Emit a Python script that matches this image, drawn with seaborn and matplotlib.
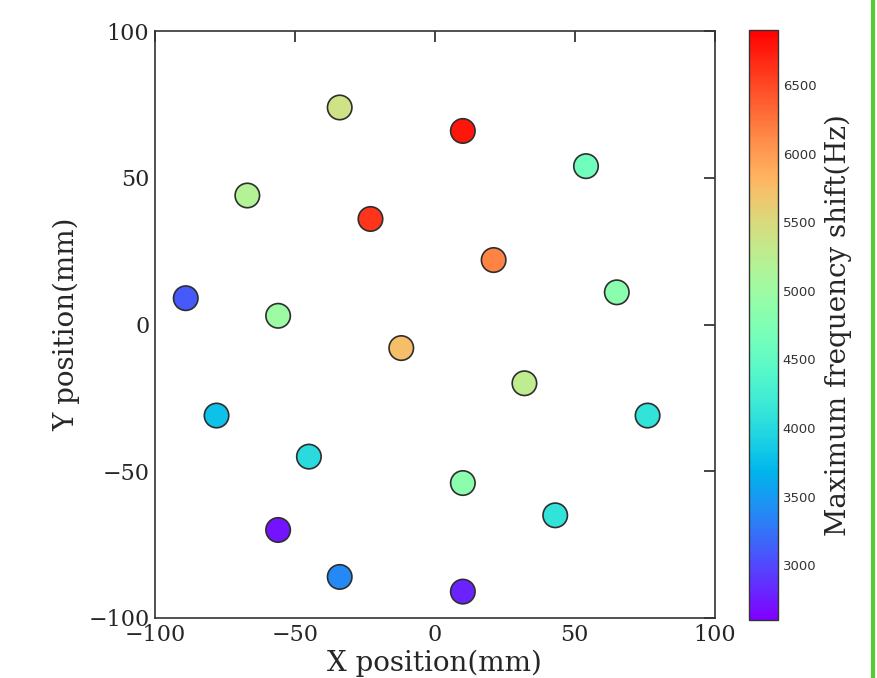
import numpy as np
import pandas as pd
import matplotlib
matplotlib.use("Agg")
import matplotlib.pyplot as plt
import matplotlib.lines as mlines
import seaborn as sns

# sensor positions (mm) and max frequency shift (Hz)
x_pos = [-34, 10, 54, -67, -23, 21, -89, 65, -56, -12, 32, -78, 76, -45, 10, 43, -56, -34, 10]
y_pos = [74, 66, 54, 44, 36, 22, 9, 11, 3, -8, -20, -31, -31, -45, -54, -65, -70, -86, -91]
freq_shift = [5400, 6770, 4620, 5180, 6600, 6150, 3100, 4850, 5000, 5750, 5280,
              3780, 4100, 4020, 4850, 4100, 2710, 3380, 2800]

vmin, vmax = 2600, 6900
cbar_ticks = [3000, 3500, 4000, 4500, 5000, 5500, 6000, 6500]

data = pd.DataFrame({"x": x_pos, "y": y_pos, "shift": freq_shift})

sns.set_style("white", {
    "xtick.direction": "in",
    "ytick.direction": "in",
    "axes.edgecolor": "#333333",
})
plt.rcParams["font.family"] = ["DejaVu Serif"]
plt.rcParams["axes.unicode_minus"] = True

fig = plt.figure(figsize=(8.77, 6.78), dpi=100)
ax = fig.add_axes([0.1767, 0.0885, 0.6383, 0.8655])
cax = fig.add_axes([0.854, 0.0855, 0.033, 0.870])

cmap = plt.get_cmap("rainbow")
norm = plt.Normalize(vmin, vmax)

sns.scatterplot(
    data=data, x="x", y="y", hue="shift",
    palette=cmap, hue_norm=norm,
    s=310, alpha=1.0, edgecolor="#2e2e2e", linewidth=1.2,
    legend=False, ax=ax,
)

ax.set_xlim(-100, 100)
ax.set_ylim(-100, 100)
ax.set_xticks([-100, -50, 0, 50, 100])
ax.set_yticks([-100, -50, 0, 50, 100])
ax.tick_params(axis="both", which="major", labelsize=16, length=8, width=1.2,
               top=True, right=True, direction="in", pad=4)
ax.set_xlabel("X position(mm)", fontsize=20, labelpad=3)
ax.set_ylabel("Y position(mm)", fontsize=20, labelpad=6)
for sp in ax.spines.values():
    sp.set_linewidth(1.2)

sm = plt.cm.ScalarMappable(norm=norm, cmap=cmap)
cbar = fig.colorbar(sm, cax=cax, ticks=cbar_ticks)
cbar.ax.tick_params(direction="in", length=3, width=1, labelsize=9.5, colors="#333333")
for lab in cbar.ax.get_yticklabels():
    lab.set_family("DejaVu Sans")
cbar.outline.set_linewidth(1.0)
cbar.set_label("Maximum frequency shift(Hz)", fontsize=20, labelpad=6)

# green frame edge on the right of the screenshot
fig.add_artist(mlines.Line2D([0.9955, 0.9955], [0, 1], transform=fig.transFigure,
                             color="#55cc33", linewidth=3))

fig.savefig("out.png", dpi=100)
